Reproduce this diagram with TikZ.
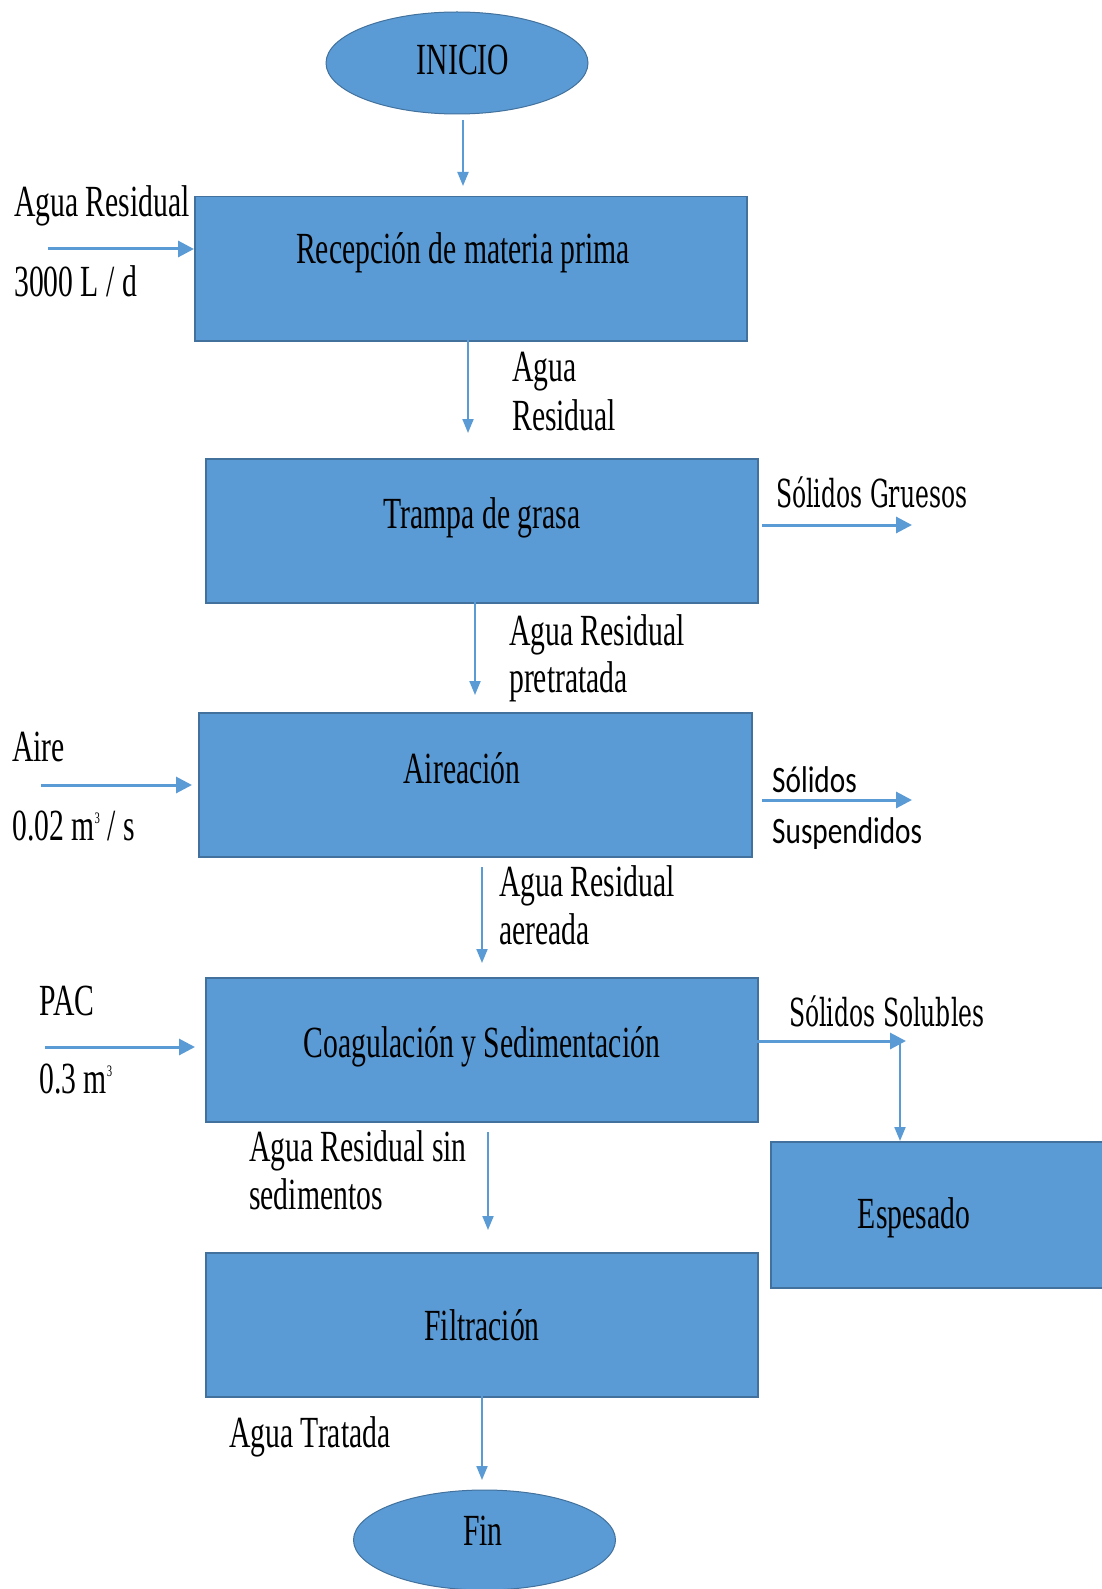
\documentclass[tikz,border=0pt]{standalone}
\usepackage{fontspec}
\usetikzlibrary{arrows.meta,shapes.geometric}
\newfontfamily\tnr[FakeStretch=0.667]{Liberation Serif}
\newfontfamily\slab[FakeStretch=0.61]{DejaVu Serif}
\newfontfamily\csans[FakeStretch=0.785]{Carlito}
\definecolor{fillblue}{HTML}{5B9BD5}
\definecolor{edgeblue}{HTML}{41719C}
\definecolor{arrowblue}{HTML}{5B9BD5}
\newcommand{\smallsup}[1]{\raisebox{17pt}{\fontsize{16pt}{16pt}\selectfont #1}}
\tikzset{
  procbox/.style={draw=edgeblue, line width=1.5pt, fill=fillblue, rectangle, inner sep=0pt},
  termnode/.style={draw=edgeblue, line width=1pt, fill=fillblue, ellipse, inner sep=0pt},
  txt/.style={inner sep=0pt, font=\tnr\fontsize{44.5pt}{50pt}\selectfont},
  slabtxt/.style={inner sep=0pt, font=\slab\fontsize{38.5pt}{44pt}\selectfont},
  sanstxt/.style={inner sep=0pt, font=\csans\fontsize{37.3pt}{44pt}\selectfont},
  downarr/.style={draw=arrowblue, line width=2pt, -{Triangle[length=14pt,width=11pt]}},
  sidearr/.style={draw=arrowblue, line width=3pt, -{Triangle[length=16pt,width=16pt]}},
}
\begin{document}
\begin{tikzpicture}[x=1pt,y=-1pt]
\useasboundingbox (0,0) rectangle (1101,1589);
\fill[white] (0,0) rectangle (1101,1589);

% terminals
\node[termnode, minimum width=262pt, minimum height=102pt] (ini) at (457,63) {};
\node[txt, anchor=base] (initxt) at (463,75) {INICIO};
\node[termnode, minimum width=262pt, minimum height=100pt] (fin) at (484.5,1540) {};
\node[txt, anchor=base] (fintxt) at (483,1545) {Fin};

% process boxes
\node[procbox, minimum width=552pt, minimum height=144pt, anchor=north west] (rec) at (194,196) {};
\node[procbox, minimum width=552pt, minimum height=144pt, anchor=north west] (tra) at (205,458) {};
\node[procbox, minimum width=553pt, minimum height=144pt, anchor=north west] (air) at (198,712) {};
\node[procbox, minimum width=552pt, minimum height=144pt, anchor=north west] (coa) at (205,977) {};
\node[procbox, minimum width=360pt, minimum height=146pt, anchor=north west] (esp) at (770,1141) {};
\node[procbox, minimum width=552pt, minimum height=144pt, anchor=north west] (fil) at (205,1252) {};

\node[txt, anchor=base] (rectxt) at (463,263) {Recepción de materia prima};
\node[txt, anchor=base] (tratxt) at (482,528) {Trampa de grasa};
\node[txt, anchor=base] (airtxt) at (462,783) {Aireación};
\node[txt, anchor=base] (coatxt) at (482,1057) {Coagulación y Sedimentación};
\node[txt, anchor=base] (esptxt) at (914,1228) {Espesado};
\node[txt, anchor=base] (filtxt) at (482,1340) {Filtración};

% coordinates for arrow ends
\coordinate (a1s) at (463,120);  \coordinate (a1e) at (463,186);
\coordinate (a2s) at (468,340);  \coordinate (a2e) at (468,433);
\coordinate (a3s) at (475,602);  \coordinate (a3e) at (475,695);
\coordinate (a4s) at (482,867);  \coordinate (a4e) at (482,963);
\coordinate (a5s) at (488,1132); \coordinate (a5e) at (488,1230);
\coordinate (a6s) at (482,1396); \coordinate (a6e) at (482,1480);

\coordinate (in1) at (48,249);   \coordinate (in1e) at (194,249);
\coordinate (in2) at (41,785);   \coordinate (in2e) at (192,785);
\coordinate (in3) at (45,1047);  \coordinate (in3e) at (195,1047);

\coordinate (o1s) at (762,525);  \coordinate (o1e) at (912,525);
\coordinate (o2s) at (762,800);  \coordinate (o2e) at (912,800);
\coordinate (o3s) at (757,1041); \coordinate (o3e) at (906,1041);
\coordinate (o4s) at (900,1041); \coordinate (o4e) at (900,1141);

% main flow
\draw[downarr] (a1s) -- (a1e);
\draw[downarr] (a2s) -- (a2e);
\draw[downarr] (a3s) -- (a3e);
\draw[downarr] (a4s) -- (a4e);
\draw[downarr] (a5s) -- (a5e);
\draw[downarr] (a6s) -- (a6e);

% inputs
\draw[sidearr] (in1) -- (in1e);
\draw[sidearr] (in2) -- (in2e);
\draw[sidearr] (in3) -- (in3e);

% outputs
\draw[sidearr] (o1s) -- (o1e);
\draw[sidearr] (o2s) -- (o2e);
\draw[sidearr] (o3s) -- (o3e);
\draw[downarr] (o4s) -- (o4e);

% labels
\node[txt, anchor=base west] (l1) at (14,217) {Agua Residual};
\node[txt, anchor=base west] (l2) at (14,296) {3000 L / d};
\node[txt, anchor=base west] (l3) at (512,381) {Agua};
\node[txt, anchor=base west] (l4) at (512,430) {Residual};
\node[slabtxt, anchor=base west] (l5) at (776,507) {Sólidos Gruesos};
\node[txt, anchor=base west] (l6) at (509,645) {Agua Residual};
\node[txt, anchor=base west] (l7) at (509,692) {pretratada};
\node[txt, anchor=base west] (l8) at (12,761) {Aire};
\node[txt, anchor=base west] (l9) at (12,840) {0.02 m\smallsup{3} / s};
\node[sanstxt, anchor=base west] (l10) at (772,792) {Sólidos};
\node[sanstxt, anchor=base west] (l11) at (772,843) {Suspendidos};
\node[txt, anchor=base west] (l12) at (499,896) {Agua Residual};
\node[txt, anchor=base west] (l13) at (499,944) {aereada};
\node[txt, anchor=base west] (l14) at (39,1015) {PAC};
\node[txt, anchor=base west] (l15) at (39,1093) {0.3 m\smallsup{3}};
\node[slabtxt, anchor=base west] (l16) at (789,1026) {Sólidos Solubles};
\node[txt, anchor=base west] (l17) at (249,1161) {Agua Residual sin};
\node[txt, anchor=base west] (l18) at (249,1209) {sedimentos};
\node[txt, anchor=base west] (l19) at (229,1447) {Agua Tratada};
\end{tikzpicture}
\end{document}
